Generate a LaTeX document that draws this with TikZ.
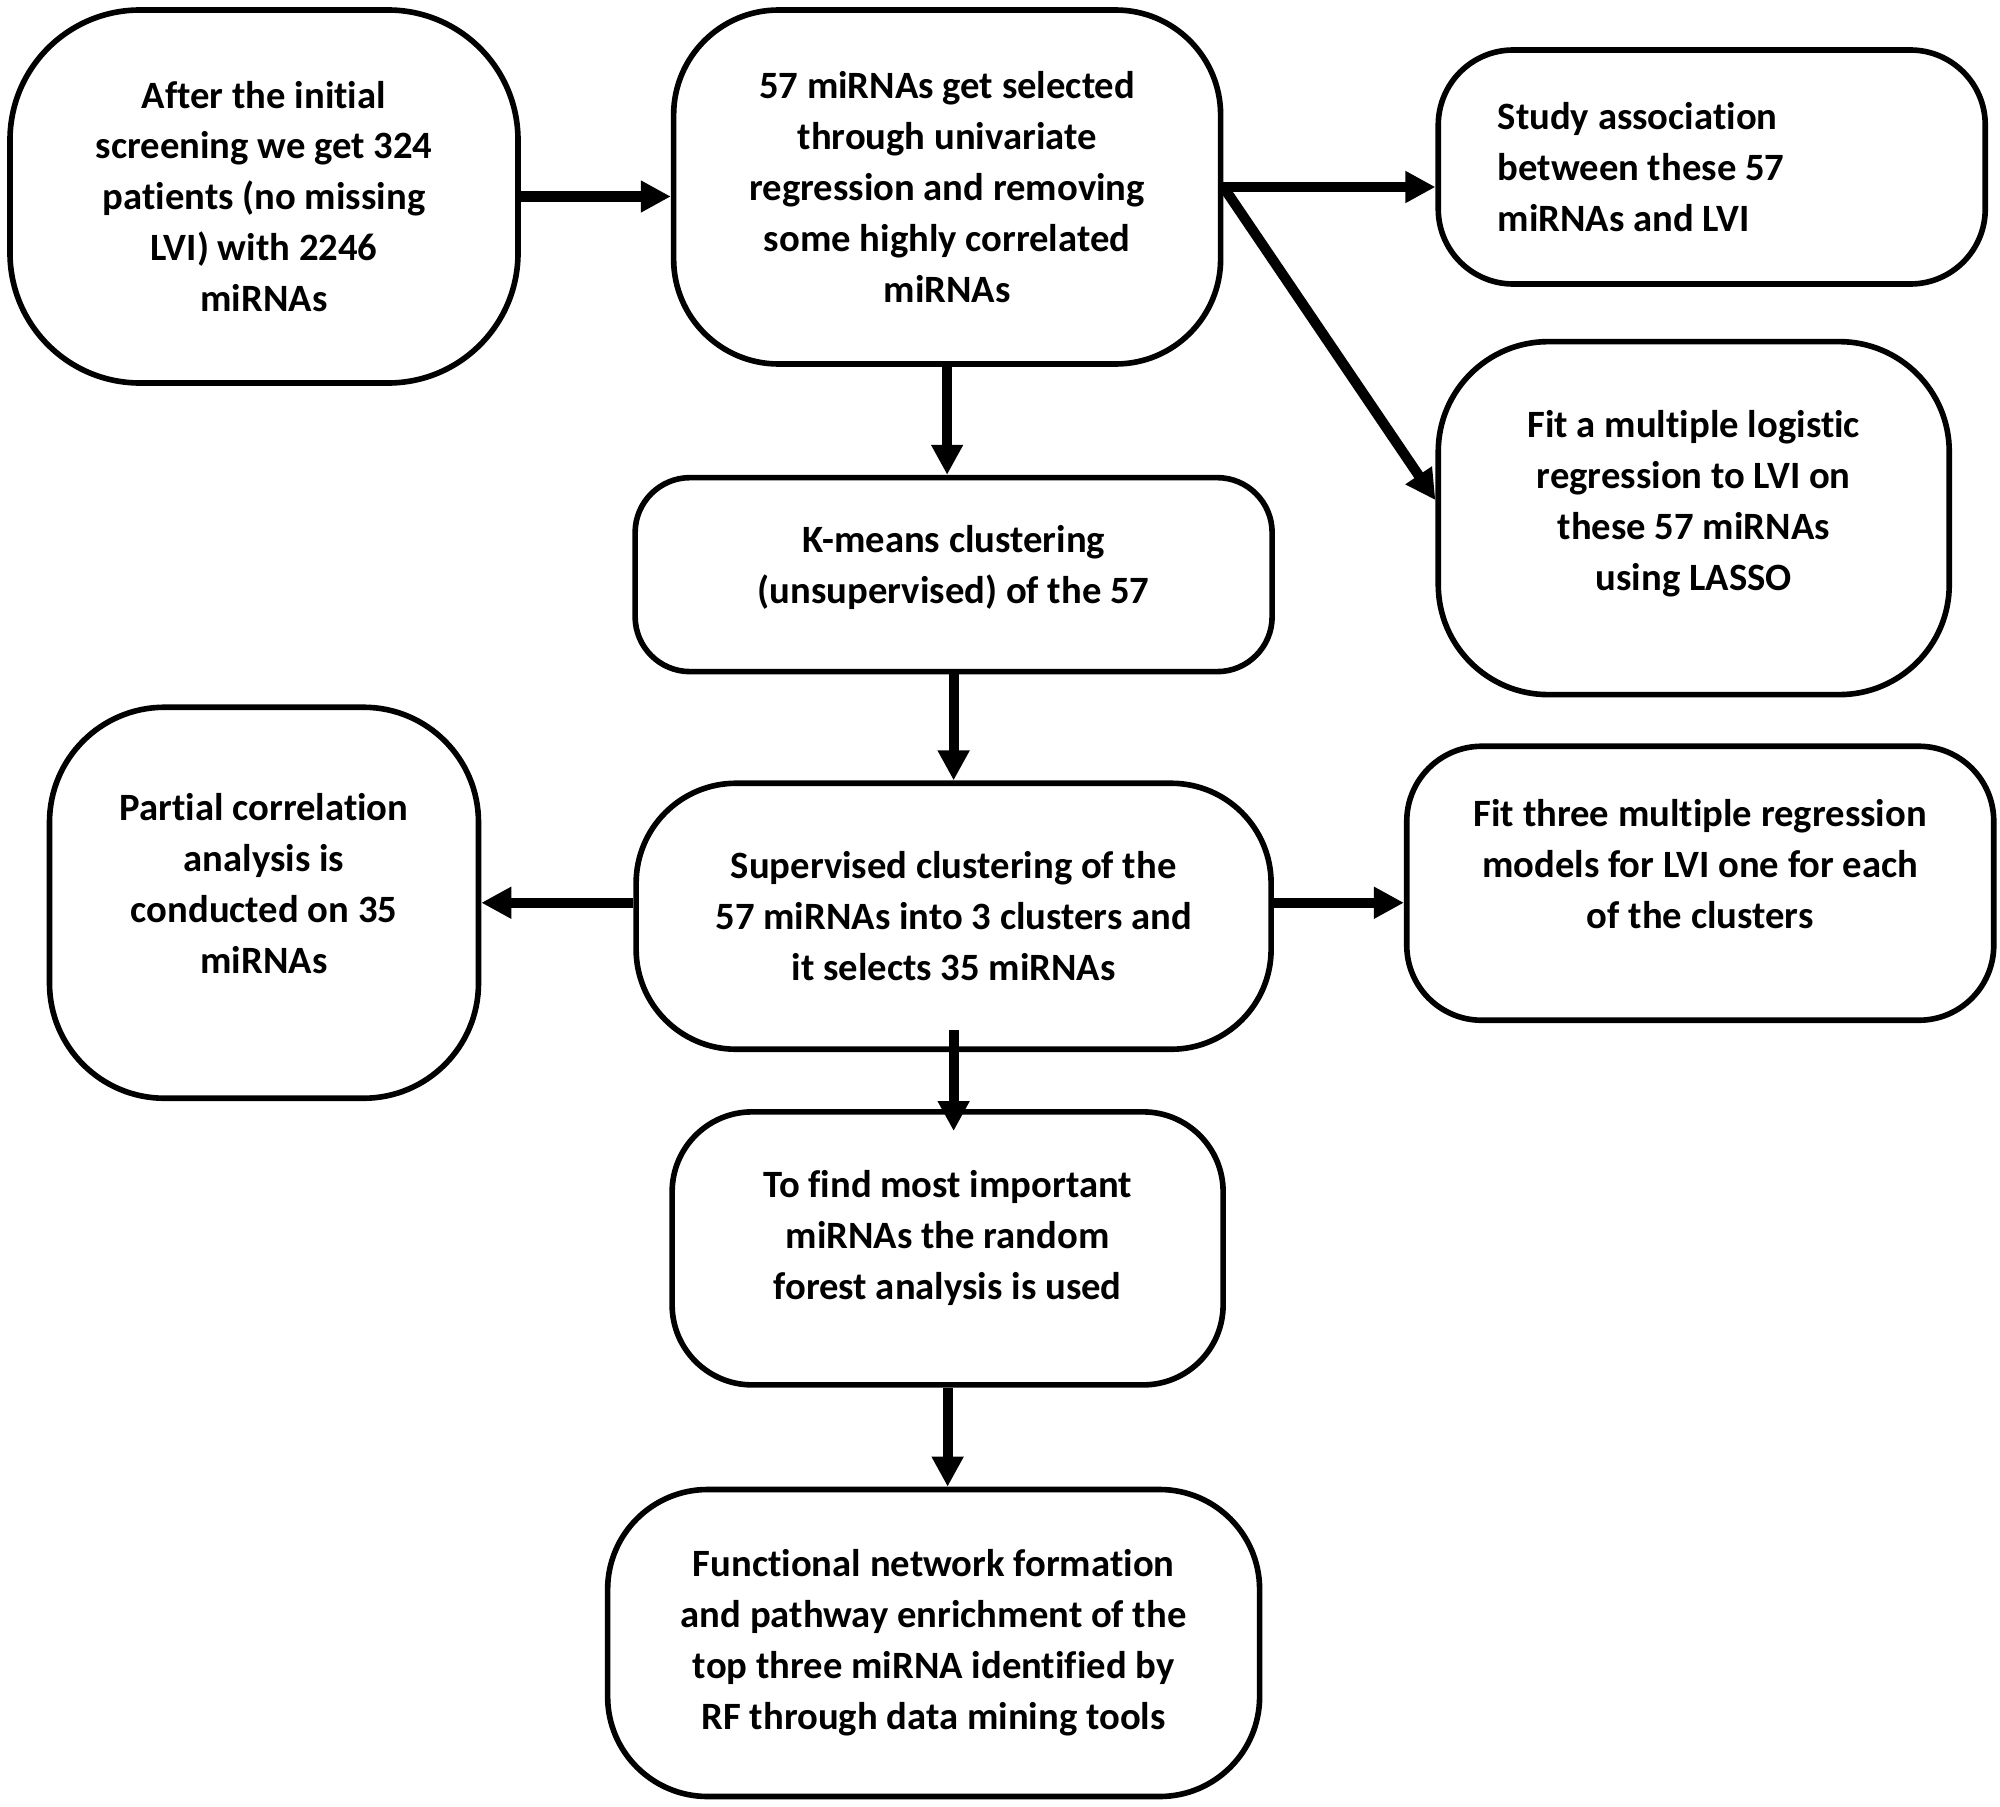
\documentclass[tikz,border=0pt]{standalone}
\usepackage{fontspec}
\setmainfont{Carlito}[Ligatures={NoCommon}]
\usetikzlibrary{arrows.meta, positioning}

\begin{document}
\begin{tikzpicture}
	\tikzstyle{Box} = [rectangle, rounded corners=1cm, align=center, draw=black, line width=1.6pt, inner sep=0pt, font=\fontsize{11}{14.5}\selectfont\bfseries]
	\tikzstyle{arrow} = [line width=2.9pt, -{Triangle[length=3mm, width=3mm]}]

	\useasboundingbox (0,0) rectangle (20,-18.07);

	\node (screen) [Box, minimum width=5.08cm, minimum height=3.73cm, rounded corners=1.3cm] at (2.64,-1.965) {After the initial\\ screening we get 324\\ patients (no missing\\ LVI) with 2246\\ miRNAs};
	\node (select) [Box, minimum width=5.47cm, minimum height=3.54cm, rounded corners=1.05cm, below right=0cm and 1.5cm of screen.north east] {57 miRNAs get selected\\ through univariate\\ regression and removing\\ some highly correlated\\ miRNAs};
	\node (assoc) [Box, minimum width=5.47cm, minimum height=2.34cm, rounded corners=0.75cm, align=flush left, text width=4.28cm, inner xsep=0.58cm, below right=0.4cm and 2.12cm of select.north east] {Study association\\ between these 57\\ miRNAs and LVI};
	\node (lasso) [Box, minimum width=5.11cm, minimum height=3.53cm, rounded corners=1.1cm, text depth=0.35cm, below right=0.52cm and 0cm of assoc.south west] {Fit a multiple logistic\\ regression to LVI on\\ these 57 miRNAs\\ using LASSO};
	\node (kmeans) [Box, minimum width=6.37cm, minimum height=1.94cm, rounded corners=0.55cm, text depth=0.2cm, below=1.08cm of select, xshift=0.065cm] {K-means clustering\\ (unsupervised) of the 57};
	\node (superv) [Box, minimum width=6.35cm, minimum height=2.66cm, rounded corners=1cm, below=1.06cm of kmeans] {Supervised clustering of the\\ 57 miRNAs into 3 clusters and\\ it selects 35 miRNAs};
	\node (partial) [Box, minimum width=4.29cm, minimum height=3.91cm, rounded corners=1.15cm, text depth=0.38cm, left=1.52cm of superv, yshift=0.135cm] {Partial correlation\\ analysis is\\ conducted on 35\\ miRNAs};
	\node (three) [Box, minimum width=5.87cm, minimum height=2.74cm, rounded corners=0.75cm, text depth=0.38cm, right=1.3cm of superv, yshift=0.33cm] {Fit three multiple regression\\ models for LVI one for each\\ of the clusters};
	\node (forest) [Box, minimum width=5.51cm, minimum height=2.73cm, rounded corners=0.8cm, text depth=0.27cm, below=0.57cm of superv, xshift=-0.06cm] {To find most important\\ miRNAs the random\\ forest analysis is used};
	\node (network) [Box, minimum width=6.52cm, minimum height=3.07cm, rounded corners=1cm, below=0.99cm of forest, xshift=-0.14cm] {Functional network formation\\ and pathway enrichment of the\\ top three miRNA identified by\\ RF through data mining tools};

	\draw [arrow] (screen.east) -- (screen.east -| select.west);
	\draw [arrow] (select.east) -- (select.east -| assoc.west);
	\draw [arrow] (select.east) -- ([yshift=0.18cm]lasso.west);
	\draw [arrow] (select.south) -- (select.south |- kmeans.north);
	\draw [arrow] (kmeans.south) -- (kmeans.south |- superv.north);
	\draw [arrow] (superv.west |- partial.east) -- (partial.east);
	\draw [arrow] (superv.east |- partial.east) -- (three.west |- partial.east);
	\draw [arrow] ([yshift=0.22cm]superv.south) -- ([yshift=-0.22cm]superv.south |- forest.north);
	\draw [arrow] (forest.south) -- (forest.south |- network.north);
\end{tikzpicture}
\end{document}
